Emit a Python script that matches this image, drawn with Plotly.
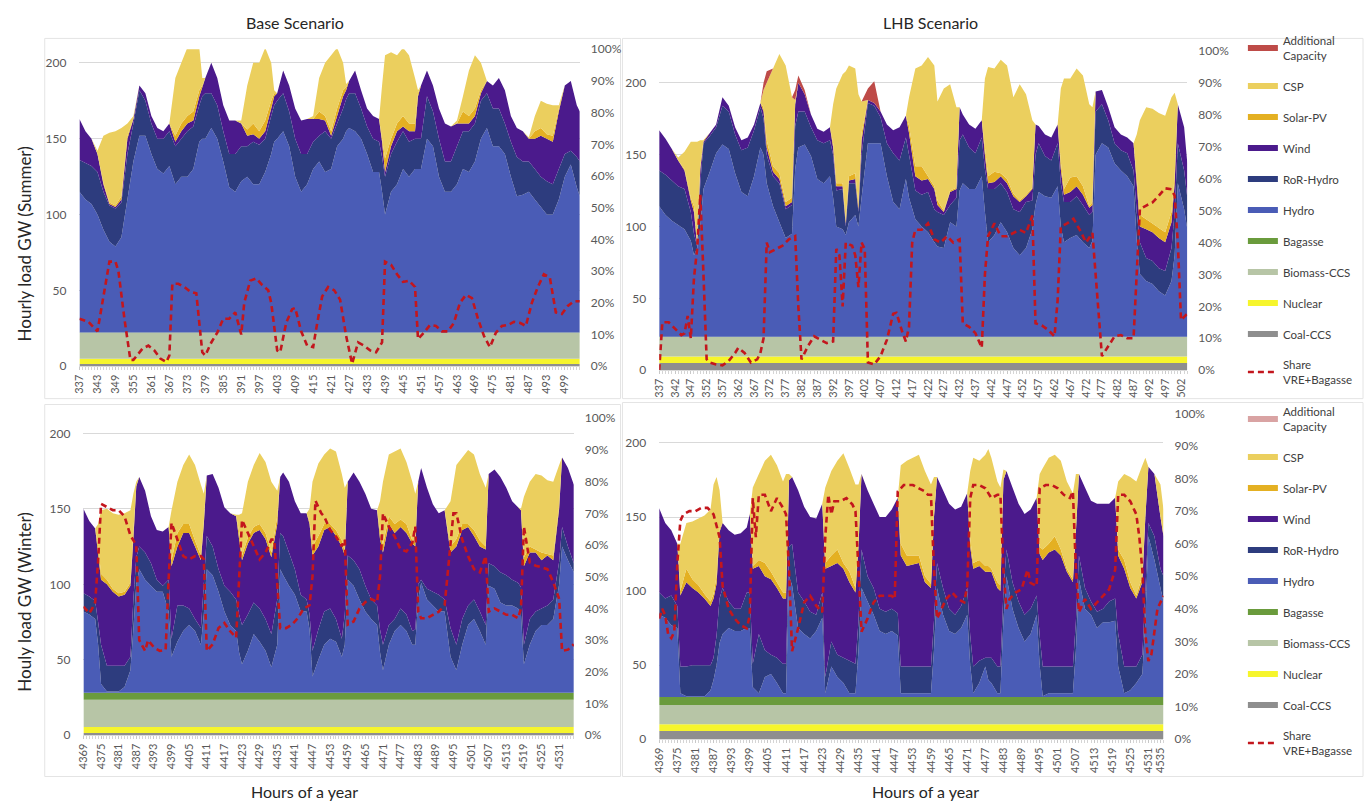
import numpy as np
import plotly.graph_objects as go

W, H = 1368, 809
FONT = "Lato"

# ---------------- Base scenario, summer (hours 337-504) ----------------
bs_hours = [337,339,341,343,345,347,349,351,353,355,357,359,361,363,365,367,369,371,373,375,
            377,378,379,381,383,385,387,389,391,393,395,397,399,401,402,403,405,407,409,411,
            413,415,417,419,421,423,425,426,427,429,431,433,435,437,438,439,441,443,445,447,
            449,450,451,453,455,457,459,461,463,465,467,469,471,473,475,477,479,481,483,485,
            487,489,491,493,495,497,499,501,503,504]
# cumulative top of each layer (GW)
bs_hydro = [115,110,107,100,90,82,79,85,110,135,152,152,140,130,127,132,120,125,125,130,
            148,150,150,157,150,135,118,115,122,125,120,120,128,140,148,150,155,145,125,115,
            120,130,135,128,130,145,150,155,157,155,150,140,128,128,115,100,115,120,130,125,
            130,130,130,150,145,125,115,115,120,130,128,135,150,157,145,145,140,125,112,113,
            115,110,105,100,100,110,125,133,118,112]
bs_ror = [136,134,132,128,115,106,104,108,140,160,182,175,160,150,150,155,145,150,155,158,
          172,178,180,180,172,155,140,140,145,145,148,146,150,165,172,175,180,168,150,140,
          140,148,152,155,150,160,170,176,180,180,170,158,150,148,138,125,140,148,155,148,
          150,150,150,178,168,150,135,135,145,155,155,160,175,180,170,170,160,148,138,135,
          135,130,125,122,120,130,140,142,138,135]
bs_wind = [163,155,150,140,120,107,105,110,150,163,185,180,165,157,155,160,148,155,160,162,
           178,184,190,200,190,172,162,162,160,152,153,150,155,170,178,180,195,185,170,162,
           163,163,163,162,152,165,178,182,188,195,182,170,165,163,148,128,145,155,158,155,
           155,178,185,195,185,170,160,158,160,160,160,165,180,188,185,190,182,165,157,155,
           150,150,152,150,148,168,185,188,172,168]
bs_pv = [163,155,150,140,121,108,106,112,152,163,185,180,165,157,155,160,152,160,165,168,
         182,185,190,200,190,172,162,162,160,156,160,155,162,175,180,180,195,185,170,162,
         163,163,168,165,155,170,182,184,188,195,182,170,165,163,150,137,150,160,165,160,
         160,180,185,195,185,170,160,158,160,168,165,170,182,188,185,190,182,165,157,155,
         150,155,157,153,152,170,185,188,172,168]
bs_csp = [163,155,150,142,152,154,155,157,160,165,185,180,165,157,155,160,190,200,210,210,
          210,190,190,200,190,172,162,162,162,185,200,200,210,200,182,180,195,185,170,162,
          163,165,190,200,205,210,200,186,188,195,182,170,165,163,185,205,207,205,210,205,
          190,182,185,195,185,170,160,158,162,178,195,205,200,188,185,190,182,165,157,155,
          151,165,175,173,172,172,185,188,172,168]
bs_coal, bs_nuclear, bs_biomass, bs_bagasse = 1.5, 3.5, 17.0, 0.3
bs_share_hours = [337,340,343,345,347,349,350,352,354,355,358,360,362,364,366,367,368,370,372,374,
                  376,378,379,381,383,385,387,389,391,392,394,396,398,400,401,403,404,406,408,409,
                  411,413,415,416,418,420,422,424,426,428,430,432,434,436,438,439,441,443,445,447,
                  449,450,452,454,456,458,460,462,464,466,468,470,472,474,476,478,480,482,484,486,
                  488,490,492,494,496,498,500,502,504]
bs_share = [15,14,11,22,33,33,30,15,2,2,5.5,6.5,5,2.4,1.3,3.4,26,26,25,23.5,
            23,4.4,3.4,7.5,10.6,15,15,17,10,20,27,27.7,25.6,24,20,5,4.4,13.7,18,18.4,
            11,6.5,6,11.7,22,25,24,21,9.6,0.8,7.5,6.5,5,4.4,7.5,33,32,29,26.6,27,
            25,8.6,10.6,13,12.7,11,11,13.7,20,22.5,21.5,15,9.6,6,10.6,12.7,13,14,13.7,12.7,
            20,25,29,28,17,16.5,19,20.5,20.5]

# ---------------- LHB scenario, summer ----------------
ls_hours = [337,339,341,343,345,347,348,349,350,351,353,355,357,359,361,363,365,367,369,370,
            371,373,375,377,379,380,381,383,385,387,389,391,392,393,395,396,397,399,400,401,
            403,405,407,409,411,413,415,416,418,420,422,424,425,427,429,431,432,433,435,437,
            439,440,441,443,445,447,449,451,453,455,456,457,459,461,463,464,465,467,469,471,
            473,474,475,477,479,481,483,485,487,488,489,491,493,495,497,499,500,501,503,504]
ls_hydro = [114,108,104,101,98,90,80,85,100,126,138,151,157,154,137,124,121,135,155,150,
            130,114,103,92,95,140,155,157,149,133,130,135,120,100,98,94,103,108,100,120,
            158,158,158,135,117,112,133,120,105,100,96,89,86,85,103,100,125,130,126,126,
            135,110,89,94,103,96,85,80,85,98,115,124,121,120,128,100,89,92,94,89,
            85,90,150,158,155,144,139,135,128,90,67,62,60,55,52,62,80,130,112,98]
ls_ror = [139,136,132,128,126,110,95,86,130,158,163,169,184,180,164,153,155,167,183,175,
          150,135,130,112,115,170,180,180,169,160,158,160,150,125,126,100,130,130,110,150,
          186,184,176,158,151,146,162,150,125,122,124,112,110,108,115,120,160,164,155,151,
          162,140,126,126,130,124,112,110,117,118,150,158,149,146,158,130,117,117,121,115,
          108,110,180,185,174,158,153,151,139,110,89,78,76,71,69,85,110,158,139,120]
ls_wind = [167,161,154,146,139,118,110,87,140,159,165,171,190,184,169,160,162,171,186,180,
           155,138,133,114,117,185,200,192,178,168,166,169,155,128,128,102,132,133,112,160,
           188,186,180,171,167,169,177,165,135,132,133,126,115,110,124,126,183,178,171,168,
           174,150,130,131,135,130,121,117,121,126,171,170,164,162,171,140,122,124,128,122,
           113,115,194,195,183,169,164,162,158,130,100,98,96,92,89,103,130,185,169,144]
ls_pv = [167,161,154,146,140,120,114,88,142,160,165,171,190,184,169,160,162,171,186,183,
         160,142,137,117,120,185,200,192,178,168,166,169,158,130,130,104,135,137,115,165,
         188,186,180,171,167,169,177,170,142,142,135,128,118,111,125,127,183,178,171,168,
         174,155,135,138,137,133,123,118,122,127,171,170,164,162,171,145,126,134,135,128,
         114,117,194,195,183,169,164,162,158,135,108,105,102,99,96,110,135,185,169,144]
ls_csp = [167,161,154,148,152,159,159,159,160,160,165,171,190,184,169,160,162,171,186,195,
          200,210,220,212,190,188,200,192,178,168,166,169,185,196,206,208,212,210,192,187,
          188,186,180,171,167,169,177,190,210,212,218,212,187,196,199,183,183,178,171,168,
          174,203,211,210,216,212,190,199,192,174,171,170,164,162,171,196,203,203,210,205,
          185,183,194,195,183,169,164,162,158,164,174,183,182,179,177,190,193,185,169,144]
ls_add = [167,161,154,148,152,159,159,159,160,160,165,171,190,184,169,160,162,171,186,200,
          208,210,220,212,190,195,205,195,178,168,166,169,185,196,206,208,212,210,192,187,
          196,201,180,171,167,169,177,190,210,212,218,212,187,196,199,183,183,178,171,168,
          174,203,211,210,216,212,190,199,192,174,171,170,164,162,171,196,203,203,210,205,
          185,183,194,195,183,169,164,162,158,164,174,183,182,179,177,190,193,185,169,144]
ls_coal, ls_nuclear, ls_biomass, ls_bagasse = 5.0, 4.5, 13.5, 0.3
ls_share_hours = [337,338,340,342,344,345,346,347,348,349,350,351,352,353,355,357,359,361,362,364,
                  366,368,369,370,371,372,374,376,378,380,381,382,384,386,388,390,392,393,394,395,
                  396,398,399,400,401,402,403,405,407,409,411,412,414,415,416,417,418,420,422,424,
                  426,428,430,432,433,435,437,439,440,441,443,445,447,449,451,453,455,456,458,460,
                  462,463,464,466,468,470,472,474,475,477,479,481,483,485,487,488,489,491,493,495,
                  497,499,500,501,502,503,504]
ls_share = [0,15,15,13,11,11.5,17,10,29,38,55,30,3.4,2.4,1.8,1.5,2.9,5.4,7,5.4,
            2.4,3.4,5.4,10,40,37,38,39,41,42,20,3.4,7.5,10.6,9.5,8.5,9,38,36,20,
            40,39,36,26,40,38,2.4,1.8,4.4,9.5,17.7,18,11.6,9,13.6,40,44,44,46,41,
            40,42,40,41,14.7,13.6,11.6,7,30,42,46,42,42,43,44,43,48.5,14.7,14,12.6,
            10.6,22,45,46,47.5,44,40,43,30,4.4,7.5,10.6,11,10,10,30,50.5,51.6,52.6,54.7,
            57,56.7,54.7,40,15.7,16.7,17.7]

# ---------------- Base scenario, winter (hours 4369-4536) ----------------
bw_hours = [4369,4371,4373,4374,4375,4377,4379,4381,4383,4385,4386,4387,4388,4390,4392,4394,4396,4398,4399,4401,
            4403,4405,4407,4409,4410,4411,4413,4415,4417,4419,4421,4422,4423,4425,4427,4429,4431,4433,4435,4436,
            4437,4439,4441,4443,4445,4446,4447,4449,4451,4453,4455,4457,4458,4459,4461,4463,4465,4467,4469,4470,
            4471,4473,4475,4477,4479,4481,4482,4483,4484,4486,4488,4490,4492,4494,4496,4498,4500,4502,4504,4506,
            4507,4509,4511,4513,4515,4517,4518,4519,4521,4523,4525,4527,4529,4531,4532,4534,4536]
bw_hydro = [82,80,77,60,34,29,29,29,32,43,70,100,110,103,99,95,95,82,52,62,
            69,73,69,60,80,110,106,95,82,73,69,55,47,56,67,62,56,45,60,110,
            106,99,93,82,82,70,39,50,60,64,62,52,60,103,99,90,82,77,73,55,
            43,60,69,73,69,60,60,90,101,90,86,82,82,52,43,60,73,77,69,60,
            99,97,88,86,86,84,80,47,60,69,73,73,77,100,125,116,108]
bw_ror = [94,92,89,75,60,46,46,46,46,52,90,118,125,121,114,103,99,103,64,86,
          86,84,77,71,100,132,125,110,99,95,90,80,73,80,88,84,77,67,90,134,
          132,121,110,93,90,80,56,70,82,84,77,64,80,119,116,110,99,90,86,70,
          60,73,77,84,80,69,70,100,103,97,95,93,90,71,60,77,86,90,82,73,
          114,112,108,106,103,101,98,60,77,82,84,86,90,115,138,125,114]
bw_wind = [150,142,137,120,103,100,95,92,93,99,130,165,171,162,145,136,135,138,112,125,
           134,134,125,116,140,172,173,164,151,147,145,130,116,127,134,136,130,118,140,171,
           174,168,155,147,147,140,119,125,136,138,132,125,119,168,174,168,160,150,149,130,
           121,140,134,138,134,127,125,168,177,164,153,147,149,121,125,136,138,132,125,123,
           173,176,171,164,155,151,149,112,121,121,116,119,116,150,184,177,166]
bw_pv = [150,142,137,125,107,103,97,94,95,101,135,165,171,162,145,136,135,138,116,134,
         140,140,129,119,142,172,173,164,151,147,145,135,119,131,138,140,134,121,145,171,
         174,168,155,147,147,142,125,132,140,140,136,129,122,168,174,168,160,150,149,135,
         126,145,140,143,140,129,128,168,177,164,153,147,149,125,130,140,140,136,129,125,
         173,176,171,164,155,151,149,118,125,123,121,120,119,152,184,177,166]
bw_csp = [150,142,137,140,149,150,147,146,147,149,160,168,171,162,145,136,135,138,149,168,
          179,186,179,166,160,172,173,164,151,147,146,146,147,168,179,187,181,168,162,171,
          174,168,155,147,147,150,168,180,186,190,188,173,164,168,174,168,160,150,149,155,
          168,186,188,190,181,168,160,168,177,164,153,147,149,155,179,184,189,186,173,164,
          173,176,171,164,155,151,150,158,168,173,172,169,168,179,184,177,166]
bw_coal, bw_nuclear, bw_biomass, bw_bagasse = 1.5, 4.0, 18.0, 4.7
bw_share_hours = [4369,4371,4372,4373,4374,4375,4377,4379,4381,4383,4385,4387,4388,4390,4391,4393,4395,4397,4398,4399,
                  4401,4403,4405,4407,4409,4410,4411,4413,4415,4417,4419,4421,4422,4423,4425,4427,4429,4431,4433,4434,
                  4435,4436,4438,4440,4442,4444,4446,4447,4448,4450,4451,4453,4455,4457,4458,4459,4461,4463,4465,4467,
                  4469,4470,4471,4473,4475,4477,4479,4481,4482,4483,4484,4486,4488,4490,4492,4494,4495,4496,4498,4500,
                  4502,4504,4506,4507,4509,4511,4513,4515,4517,4518,4519,4521,4523,4525,4527,4529,4531,4532,4534,4536]
bw_share = [40.6,38.5,40,42,55,73,72,71,71,69,63,60,30,26.6,30,27.7,26.6,27,49,67,
            61.7,56.5,55.5,56.5,56.5,55.5,26.6,28.7,33.8,35.4,32.8,30.8,49,67.9,63.8,59.6,55.5,57.6,61.7,61.7,
            49,33.8,33.8,34.9,36.9,40,41,50,74,70,69,64.8,62.7,59.6,61.7,34.9,35.9,40,42,43,
            42,50,70,65.8,62.7,58.6,58,60.7,65.8,39,36.9,36.9,38,39,41,59.6,70,70,61.7,56.5,
            52.4,51.4,56.5,39,40,39,38,38,36.9,40,65.8,54.5,53.5,53,52.4,48.3,43,26.6,27,28.7]

# ---------------- LHB scenario, winter ----------------
lw_hours = [4369,4371,4373,4375,4376,4378,4380,4382,4384,4386,4387,4388,4389,4390,4392,4394,4396,4398,4399,4400,
            4402,4404,4406,4408,4410,4411,4412,4413,4415,4417,4419,4421,4423,4424,4426,4428,4430,4432,4434,4435,
            4436,4438,4440,4442,4444,4446,4448,4449,4451,4453,4455,4457,4459,4460,4461,4463,4465,4467,4469,4471,
            4472,4473,4475,4477,4478,4479,4481,4482,4483,4484,4486,4488,4490,4492,4494,4495,4496,4498,4500,4502,
            4504,4506,4507,4508,4510,4512,4514,4516,4518,4520,4521,4523,4525,4527,4529,4530,4531,4533,4535,4536]
lw_hydro = [84,82,77,75,31,29,29,29,29,33,40,50,65,71,75,73,73,75,75,35,
            31,42,44,38,31,31,110,104,75,71,68,73,82,31,49,42,38,31,31,60,
            102,93,84,73,71,73,70,31,31,31,31,31,31,60,102,84,73,71,75,84,
            50,31,38,49,40,38,31,31,80,110,88,75,66,71,84,50,29,31,31,31,
            31,31,60,108,88,84,75,79,79,80,49,31,33,38,44,80,137,121,102,93]
lw_ror = [99,95,97,90,49,49,50,50,50,50,55,70,95,102,93,88,88,99,99,51,
          71,60,57,55,51,51,130,132,99,93,86,84,99,42,66,57,55,53,51,80,
          128,110,102,88,86,88,85,49,49,49,49,49,49,80,119,102,88,84,90,102,
          70,49,53,55,55,55,49,49,100,128,106,93,84,88,97,70,49,49,49,49,
          49,49,80,124,102,93,86,88,93,95,71,49,49,49,57,100,146,137,115,110]
lw_wind = [156,146,141,132,97,106,102,99,95,90,95,105,140,146,141,138,139,143,152,115,
           117,110,108,102,95,95,175,177,168,157,150,149,159,115,117,119,115,106,99,130,
           179,168,159,150,150,155,163,124,117,118,119,106,102,150,177,168,159,155,157,166,
           130,115,117,113,113,113,102,100,175,181,170,159,152,155,163,125,121,126,128,124,
           113,106,140,179,170,161,159,159,159,163,124,115,102,95,106,150,184,179,150,137]
lw_pv = [156,146,141,132,100,115,108,104,98,93,98,110,142,146,141,138,139,143,152,117,
         121,119,113,106,99,99,175,177,168,157,150,149,159,119,124,128,119,113,102,132,
         179,168,159,150,150,155,163,132,124,124,124,110,105,150,177,168,159,155,157,166,
         135,119,121,117,117,115,106,104,175,181,170,159,152,155,163,130,128,132,137,128,
         115,108,142,179,170,161,159,159,159,163,128,121,106,97,110,150,184,179,150,137]
lw_csp = [156,146,141,132,132,146,147,149,151,155,172,177,168,146,141,138,139,143,152,170,
          179,188,192,185,174,179,179,177,168,157,150,149,159,170,181,188,193,183,172,172,
          179,168,159,150,150,155,163,185,188,190,192,181,172,177,177,168,159,155,157,166,
          181,190,188,192,196,190,174,170,182,181,170,159,152,155,163,179,183,190,192,188,
          174,166,179,179,170,161,159,159,159,163,174,179,177,174,185,190,184,179,172,155]
lw_coal, lw_nuclear, lw_biomass, lw_bagasse = 5.5, 4.5, 13.0, 5.5
lw_share_hours = [4369,4370,4371,4372,4373,4374,4375,4376,4377,4379,4381,4383,4385,4387,4389,4390,4392,4394,4396,4398,
                  4399,4400,4401,4402,4404,4406,4408,4410,4411,4412,4413,4415,4417,4419,4421,4423,4424,4425,4426,4427,
                  4429,4431,4433,4434,4435,4436,4438,4440,4442,4444,4446,4447,4448,4450,4452,4453,4455,4457,4458,4459,
                  4460,4461,4462,4464,4466,4468,4470,4471,4472,4473,4475,4477,4479,4481,4482,4483,4484,4485,4487,4489,
                  4491,4492,4494,4495,4497,4499,4501,4503,4505,4506,4507,4508,4510,4512,4514,4516,4518,4520,4521,4523,
                  4525,4527,4528,4529,4530,4531,4532,4534,4536]
lw_share = [37,40,38,32,31,33,54,67,69,70,70,71,71,69,62,47,40,37,35,34,
            38,74,62,75,75,70,74,71,69,52,27,34,42,44,41,39,62,75,69,73,
            73,74,72,70,52,33,37,42,44,44,44,43,76,78,78,78,77,76,75,75,
            52,37,39,43,45,43,42,47,74,78,78,77,74,75,75,52,40,43,45,46,
            52,48,47,77,78,78,77,75,74,76,52,39,43,40,42,44,46,52,75,75,
            73,69,62,52,32,24,26,40,44]

# tick labels
bs_ticks = list(range(337, 505, 6))
ls_ticks = list(range(337, 505, 5))
bw_ticks = list(range(4369, 4537, 6))
lw_ticks = list(range(4369, 4537, 6)) + [4535]

# ---------------- style ----------------
COL = {
    "Additional Capacity": "#BE4B48",
    "CSP": "#EBCF5E",
    "Solar-PV": "#E4B022",
    "Wind": "#4B1A8C",
    "RoR-Hydro": "#2D3C7E",
    "Hydro": "#4A5CB6",
    "Bagasse": "#6A9B3C",
    "Biomass-CCS": "#B7C5A6",
    "Nuclear": "#F6F52C",
    "Coal-CCS": "#8E8E8E",
}
SHARE_COL = "#C3161D"
RANK = {"Additional Capacity": 1, "CSP": 2, "Solar-PV": 3, "Wind": 4, "RoR-Hydro": 5,
        "Hydro": 6, "Bagasse": 7, "Biomass-CCS": 8, "Nuclear": 9, "Coal-CCS": 10}
LEGEND_NAME = {"Additional Capacity": "Additional<br>Capacity"}

fig = go.Figure()


def add_panel(key, hours, consts, tops, share_h, share_v, xa, ya, ya2, legend, add_color=None):
    n = len(hours)
    cum = np.zeros(n)
    layers = []
    for name, v in consts:
        layers.append((name, np.full(n, float(v))))
        cum = cum + v
    for name, top in tops:
        t = np.array(top, dtype=float)
        layers.append((name, np.clip(t - cum, 0, None)))
        cum = np.maximum(cum, t)
    for name, vals in layers:
        color = COL[name]
        if name == "Additional Capacity" and add_color:
            color = add_color
        fig.add_trace(go.Scatter(
            x=hours, y=vals, name=LEGEND_NAME.get(name, name), mode="none",
            stackgroup=key, fillcolor=color, xaxis=xa, yaxis=ya,
            showlegend=legend is not None, legend=legend or "legend",
            legendgroup=key + name, legendrank=RANK[name], hoverinfo="skip"))
    fig.add_trace(go.Scatter(
        x=share_h, y=np.array(share_v) / 100.0, name="Share<br>VRE+Bagasse", mode="lines",
        line=dict(color=SHARE_COL, width=2.6, dash="6px,4px"), xaxis=xa, yaxis=ya2,
        showlegend=legend is not None, legend=legend or "legend",
        legendgroup=key + "share", legendrank=11, hoverinfo="skip"))


add_panel("bs", bs_hours,
          [("Coal-CCS", bs_coal), ("Nuclear", bs_nuclear), ("Biomass-CCS", bs_biomass), ("Bagasse", bs_bagasse)],
          [("Hydro", bs_hydro), ("RoR-Hydro", bs_ror), ("Wind", bs_wind), ("Solar-PV", bs_pv), ("CSP", bs_csp)],
          bs_share_hours, bs_share, "x", "y", "y2", None)
add_panel("ls", ls_hours,
          [("Coal-CCS", ls_coal), ("Nuclear", ls_nuclear), ("Biomass-CCS", ls_biomass), ("Bagasse", ls_bagasse)],
          [("Hydro", ls_hydro), ("RoR-Hydro", ls_ror), ("Wind", ls_wind), ("Solar-PV", ls_pv), ("CSP", ls_csp),
           ("Additional Capacity", ls_add)],
          ls_share_hours, ls_share, "x2", "y3", "y4", "legend")
add_panel("bw", bw_hours,
          [("Coal-CCS", bw_coal), ("Nuclear", bw_nuclear), ("Biomass-CCS", bw_biomass), ("Bagasse", bw_bagasse)],
          [("Hydro", bw_hydro), ("RoR-Hydro", bw_ror), ("Wind", bw_wind), ("Solar-PV", bw_pv), ("CSP", bw_csp)],
          bw_share_hours, bw_share, "x3", "y5", "y6", None)
add_panel("lw", lw_hours,
          [("Coal-CCS", lw_coal), ("Nuclear", lw_nuclear), ("Biomass-CCS", lw_biomass), ("Bagasse", lw_bagasse)],
          [("Hydro", lw_hydro), ("RoR-Hydro", lw_ror), ("Wind", lw_wind), ("Solar-PV", lw_pv), ("CSP", lw_csp),
           ("Additional Capacity", lw_csp)],
          lw_share_hours, lw_share, "x4", "y7", "y8", "legend2", add_color="#D9A3A3")


def fx(p):
    return p / W


def fy(p):
    return 1 - p / H


TICKC = "#595959"
panels = [
    ("xaxis", "yaxis", "yaxis2", "y", "x", (73, 577), (365, 42), (337, 504), 209, bs_ticks),
    ("xaxis2", "yaxis3", "yaxis4", "y3", "x2", (657, 1189), (369, 44), (337, 504), 222, ls_ticks),
    ("xaxis3", "yaxis5", "yaxis6", "y5", "x3", (77, 571), (741, 418), (4369, 4536), 210, bw_ticks),
    ("xaxis4", "yaxis7", "yaxis8", "y7", "x4", (657, 1165), (745, 413), (4369, 4536), 220, lw_ticks),
]
lay = {}
for xk, yk, y2k, yref, xref, (xl, xr), (yb, yt), (h0, h1), ymax, ticks in panels:
    lay[xk] = dict(domain=[fx(xl), fx(xr)], range=[h0, h1], anchor=yref,
                   tickmode="array", tickvals=ticks, ticktext=[str(t) for t in ticks],
                   tickangle=-90, tickfont=dict(size=11, color=TICKC, family=FONT),
                   showline=True, linecolor="#D9D9D9", linewidth=1,
                   ticks="outside", ticklen=3, tickcolor="#C8C8C8",
                   minor=dict(tickmode="linear", tick0=h0, dtick=1, ticks="outside",
                              ticklen=3, tickcolor="#D5D5D5"),
                   showgrid=False, zeroline=False, fixedrange=True)
    lay[yk] = dict(domain=[fy(yb), fy(yt)], range=[0, ymax], anchor=xref,
                   tickvals=[0, 50, 100, 150, 200], ticks="", ticklabelstandoff=12,
                   tickfont=dict(size=12, color=TICKC, family=FONT),
                   showgrid=True, gridcolor="#D9D9D9", gridwidth=1,
                   zeroline=False, showline=False, fixedrange=True)
    lay[y2k] = dict(overlaying=yref, side="right", anchor=xref, range=[0, 1],
                    tickvals=[i / 10 for i in range(11)],
                    ticktext=[f"{i * 10}%" for i in range(11)], ticks="", ticklabelstandoff=10,
                    tickfont=dict(size=12, color=TICKC, family=FONT),
                    showgrid=False, zeroline=False, showline=False, fixedrange=True)

leg_common = dict(xanchor="left", yanchor="top", tracegroupgap=12, traceorder="grouped",
                  font=dict(size=11.5, color="#404040", family=FONT), bgcolor="rgba(0,0,0,0)",
                  itemwidth=30)

annotations = [
    dict(text="Base Scenario", x=fx(290), y=fy(15), showarrow=False, font=dict(size=16, color="#262626")),
    dict(text="LHB Scenario", x=fx(930), y=fy(15), showarrow=False, font=dict(size=16, color="#262626")),
    dict(text="Hourly load GW (Summer)", x=fx(18), y=fy(240), textangle=-90, showarrow=False,
         font=dict(size=17, color="#262626")),
    dict(text="Houly load GW (Winter)", x=fx(18), y=fy(605), textangle=-90, showarrow=False,
         font=dict(size=17, color="#262626")),
    dict(text="Hours of a year", x=fx(300), y=fy(798), showarrow=False, font=dict(size=16, color="#262626")),
    dict(text="Hours of a year", x=fx(925), y=fy(798), showarrow=False, font=dict(size=16, color="#262626")),
]
for a in annotations:
    a.update(xref="paper", yref="paper", xanchor="center", yanchor="middle")

shapes = []
for (x0, y0, x1, y1) in [(38, 31, 618, 398), (620, 31, 1366, 398), (38, 404, 618, 783), (620, 402, 1366, 783)]:
    shapes.append(dict(type="rect", xref="paper", yref="paper", x0=fx(x0), x1=fx(x1), y0=fy(y1), y1=fy(y0),
                       line=dict(color="#E4E4E4", width=1), layer="below"))

fig.update_layout(
    width=W, height=H, autosize=False,
    margin=dict(l=0, r=0, t=0, b=0),
    paper_bgcolor="white", plot_bgcolor="white",
    font=dict(family=FONT, color="#404040"),
    showlegend=True,
    legend=dict(x=fx(1245), y=fy(19), **leg_common),
    legend2=dict(x=fx(1245), y=fy(397), **leg_common),
    annotations=annotations, shapes=shapes,
    hovermode=False,
    **lay,
)

fig.write_html("out.html", config={"displayModeBar": False},
               post_script="document.body.style.margin='0px';document.body.style.overflow='hidden';")
